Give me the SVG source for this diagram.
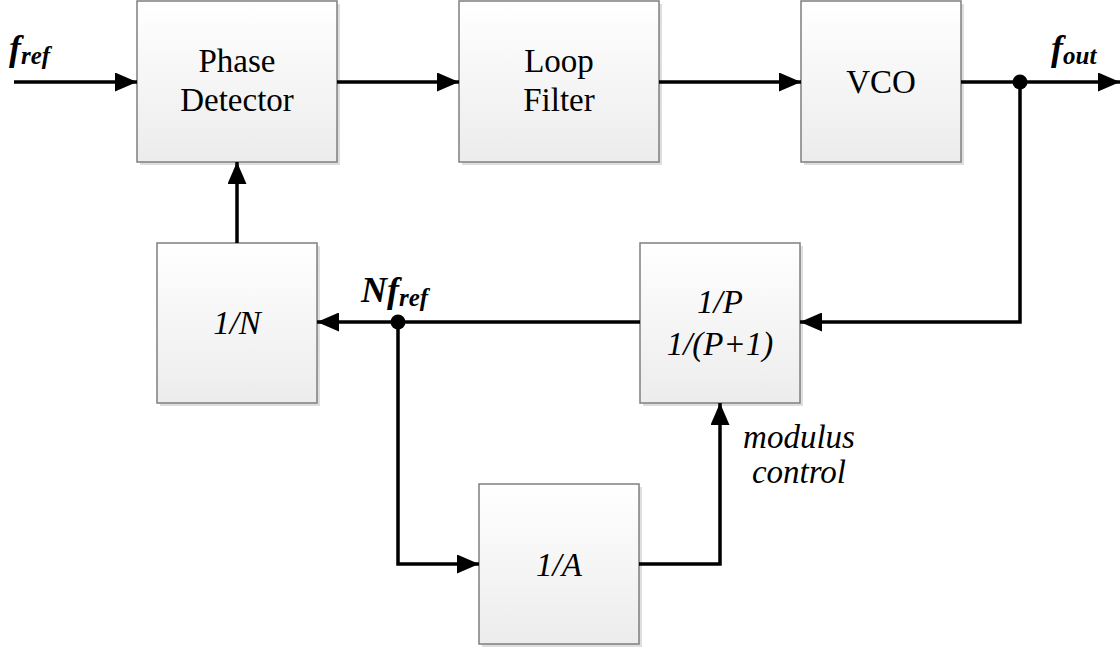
<svg xmlns="http://www.w3.org/2000/svg" width="1120" height="651" viewBox="0 0 1120 651">
  <defs>
    <linearGradient id="boxFill" x1="0" y1="0" x2="0" y2="1">
      <stop offset="0" stop-color="#ffffff"/>
      <stop offset="1" stop-color="#ececec"/>
    </linearGradient>
    <marker id="arrow" viewBox="0 0 22 19" refX="22" refY="9.5" markerWidth="22" markerHeight="19" markerUnits="userSpaceOnUse" orient="auto">
      <path d="M0,0 L22,9.5 L0,19 Z" fill="#000"/>
    </marker>
    <style>
      .shadow { fill: #dedede; }
      .box { fill: url(#boxFill); stroke: #7f7f7f; stroke-width: 1.5; }
      text { font-family: 'Liberation Serif', 'Times New Roman', 'DejaVu Serif', serif; fill: #000; }
      .lbl { font-size: 33px; text-anchor: middle; }
      .it { font-style: italic; }
      .sig { font-style: italic; font-weight: bold; }
      .wire { fill: none; stroke: #000; stroke-width: 3.5; }
      .arr { marker-end: url(#arrow); }
      .dot { fill: #000; }
    </style>
  </defs>

  <rect width="1120" height="651" fill="#fff"/>

  <!-- Phase detector -->
  <g id="phase-detector">
    <rect class="shadow" x="140" y="4" width="200" height="161"/>
    <rect class="box" x="137" y="1" width="200" height="161"/>
    <text class="lbl" x="237" y="72">Phase</text>
    <text class="lbl" x="237" y="111">Detector</text>
  </g>

  <!-- Loop filter -->
  <g id="loop-filter">
    <rect class="shadow" x="462" y="4" width="200" height="161"/>
    <rect class="box" x="459" y="1" width="200" height="161"/>
    <text class="lbl" x="559" y="72">Loop</text>
    <text class="lbl" x="559" y="111">Filter</text>
  </g>

  <!-- VCO -->
  <g id="vco">
    <rect class="shadow" x="804" y="4" width="160" height="161"/>
    <rect class="box" x="801" y="1" width="160" height="161"/>
    <text class="lbl" x="881" y="93">VCO</text>
  </g>

  <!-- Divide by N -->
  <g id="div-n">
    <rect class="shadow" x="160" y="246" width="160" height="160"/>
    <rect class="box" x="157" y="243" width="160" height="160"/>
    <text class="lbl it" x="237" y="334">1/N</text>
  </g>

  <!-- Dual-modulus prescaler -->
  <g id="prescaler">
    <rect class="shadow" x="643" y="246" width="160" height="160"/>
    <rect class="box" x="640" y="243" width="160" height="160"/>
    <text class="lbl it" x="720" y="313">1/P</text>
    <text class="lbl it" x="720" y="355">1/(P+1)</text>
  </g>

  <!-- Divide by A -->
  <g id="div-a">
    <rect class="shadow" x="482" y="487" width="160" height="160"/>
    <rect class="box" x="479" y="484" width="160" height="160"/>
    <text class="lbl it" x="559" y="576">1/A</text>
  </g>

  <!-- Connectors -->
  <g id="connectors">
    <line class="wire arr" x1="14" y1="82" x2="137" y2="82"/>
    <line class="wire arr" x1="337" y1="82" x2="459" y2="82"/>
    <line class="wire arr" x1="659" y1="82" x2="801" y2="82"/>
    <line class="wire arr" x1="961" y1="82" x2="1120" y2="82"/>
    <polyline class="wire arr" points="1020,82 1020,322 800,322"/>
    <line class="wire arr" x1="640" y1="322" x2="317" y2="322"/>
    <line class="wire arr" x1="237" y1="243" x2="237" y2="162"/>
    <polyline class="wire arr" points="398,322 398,564 479,564"/>
    <polyline class="wire arr" points="639,564 720,564 720,403"/>
    <circle class="dot" cx="1020" cy="82" r="7.5"/>
    <circle class="dot" cx="398" cy="322" r="7.5"/>
  </g>

  <!-- Signal labels -->
  <g id="signal-labels">
    <text class="sig" x="9" y="60" font-size="36">f<tspan font-size="25" dy="4">ref</tspan></text>
    <text class="sig" x="1051" y="60" font-size="36">f<tspan font-size="25" dy="4">out</tspan></text>
    <text class="sig" x="361" y="302" font-size="36">Nf<tspan font-size="25" dy="4">ref</tspan></text>
    <text class="lbl it" x="799" y="448">modulus</text>
    <text class="lbl it" x="799" y="483">control</text>
  </g>
</svg>
